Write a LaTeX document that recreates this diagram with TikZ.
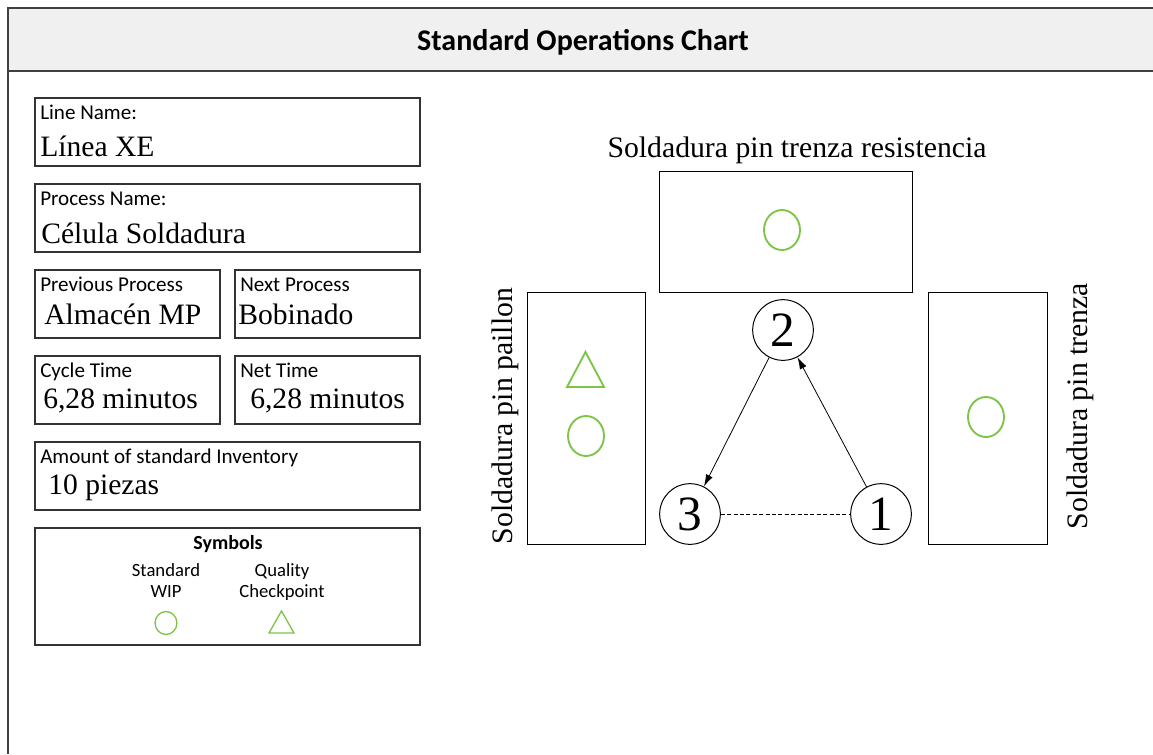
\documentclass[tikz,border=0pt]{standalone}
\usepackage{fontspec}
\setmainfont{Liberation Serif}
\newfontfamily\labelfont{Carlito}
\usetikzlibrary{arrows.meta}
\definecolor{wipgreen}{RGB}{125,196,72}
\definecolor{headgray}{RGB}{240,240,240}
\tikzset{
	frameline/.style={line width=1.4pt, black!75},
	infobox/.style={line width=1.1pt, black!80},
	stationbox/.style={line width=0.7pt},
	smalllabel/.style={font=\labelfont\fontsize{15.8}{18}\selectfont, anchor=base west, inner sep=0pt},
	valuetext/.style={font=\fontsize{22.2}{26}\selectfont, anchor=base west, inner sep=0pt},
	symlabel/.style={font=\labelfont\fontsize{14}{16}\selectfont, anchor=base, inner sep=0pt},
	stationlabel/.style={font=\fontsize{22.3}{26}\selectfont, anchor=base, inner sep=0pt},
	opstep/.style={circle, draw, line width=0.75pt, minimum size=45.5pt, inner sep=0pt, font=\fontsize{37}{40}\selectfont},
	wip/.style={wipgreen, line width=1.4pt},
	checkpoint/.style={wipgreen, line width=1.4pt, line join=miter},
	flow/.style={-{Latex[length=9pt,width=5.5pt]}, line width=0.6pt},
}
\begin{document}
\begin{tikzpicture}[x=0.75pt, y=-0.75pt]
		\useasboundingbox (0,0) rectangle (1153,754);
		
		% Header and frame
		\fill[headgray] (8,8) rectangle (1153,71);
		\draw[frameline] (8,754) -- (8,8) -- (1153,8);
		\draw[frameline] (8,71) -- (1153,71);
		\node[font=\labelfont\bfseries\fontsize{22.5}{26}\selectfont, anchor=base] (title) at (583,50) {Standard Operations Chart};
		
		% Info boxes
		\draw[infobox] (35,98) rectangle (420,166);
		\draw[infobox] (35,184) rectangle (420,252);
		\draw[infobox] (35,270) rectangle (220,338);
		\draw[infobox] (235,270) rectangle (420,338);
		\draw[infobox] (35,356) rectangle (220,424);
		\draw[infobox] (235,356) rectangle (420,424);
		\draw[infobox] (35,442) rectangle (420,510);
		\draw[infobox] (35,528) rectangle (420,645);
		
		% Box texts
		\node[smalllabel] (line-lbl) at (40,119) {Line Name:};
		\node[valuetext] (line-val) at (40,156) {Línea XE};
		\node[smalllabel] (proc-lbl) at (40,205) {Process Name:};
		\node[valuetext] (proc-val) at (41,243) {Célula Soldadura};
		\node[smalllabel] (prev-lbl) at (40,291) {Previous Process};
		\node[valuetext] (prev-val) at (44,324) {Almacén MP};
		\node[smalllabel] (next-lbl) at (240,291) {Next Process};
		\node[valuetext] (next-val) at (238,324) {Bobinado};
		\node[smalllabel] (cycle-lbl) at (40,377) {Cycle Time};
		\node[valuetext] (cycle-val) at (43,408) {6,28 minutos};
		\node[smalllabel] (net-lbl) at (240,377) {Net Time};
		\node[valuetext] (net-val) at (250,408) {6,28 minutos};
		\node[smalllabel] (inv-lbl) at (40,463) {Amount of standard Inventory};
		\node[valuetext] (inv-val) at (48,494) {10 piezas};
		
		% Symbols legend
		\node[symlabel, font=\labelfont\bfseries\fontsize{15}{18}\selectfont] (sym-title) at (228,549) {Symbols};
		\node[symlabel] (sym-wip1) at (166,576) {Standard};
		\node[symlabel] (sym-wip2) at (166,597) {WIP};
		\node[symlabel] (sym-qc1) at (282,576) {Quality};
		\node[symlabel] (sym-qc2) at (282,597) {Checkpoint};
		\draw[wip, line width=1pt] (166,623) ellipse [x radius=8.2pt, y radius=8.6pt];
		\draw[checkpoint, line width=1pt] (269,633) -- (294,633) -- (281.5,611) -- cycle;
		
		% Stations
		\draw[stationbox] (659,171) rectangle (912,292);
		\draw[stationbox] (527,292) rectangle (645,544);
		\draw[stationbox] (928,292) rectangle (1047,544);
		\node[stationlabel] (st-top) at (797,157) {Soldadura pin trenza resistencia};
		\node[stationlabel, rotate=90] (st-left) at (512,416) {Soldadura pin paillon};
		\node[stationlabel, rotate=90] (st-right) at (1087,406) {Soldadura pin trenza};
		
		% Standard WIP and quality check
		\draw[wip] (782,230) ellipse [x radius=13.5pt, y radius=15pt];
		\draw[wip] (586,436) ellipse [x radius=13.5pt, y radius=15pt];
		\draw[wip] (986,417) ellipse [x radius=13.5pt, y radius=15pt];
		\draw[checkpoint] (567,387) -- (604,387) -- (585.5,352) -- cycle;
		
		% Operation sequence
		\node[opstep] (op2) at (783,330) {2};
		\node[opstep] (op3) at (690,514) {3};
		\node[opstep] (op1) at (881,514) {1};
		\draw[flow] (op2) -- (op3);
		\draw[flow] (op1) -- (op2);
		\draw[dashed, dash pattern=on 3pt off 1.8pt, line width=0.6pt] (op3) -- (op1);
		
	\end{tikzpicture}
\end{document}
